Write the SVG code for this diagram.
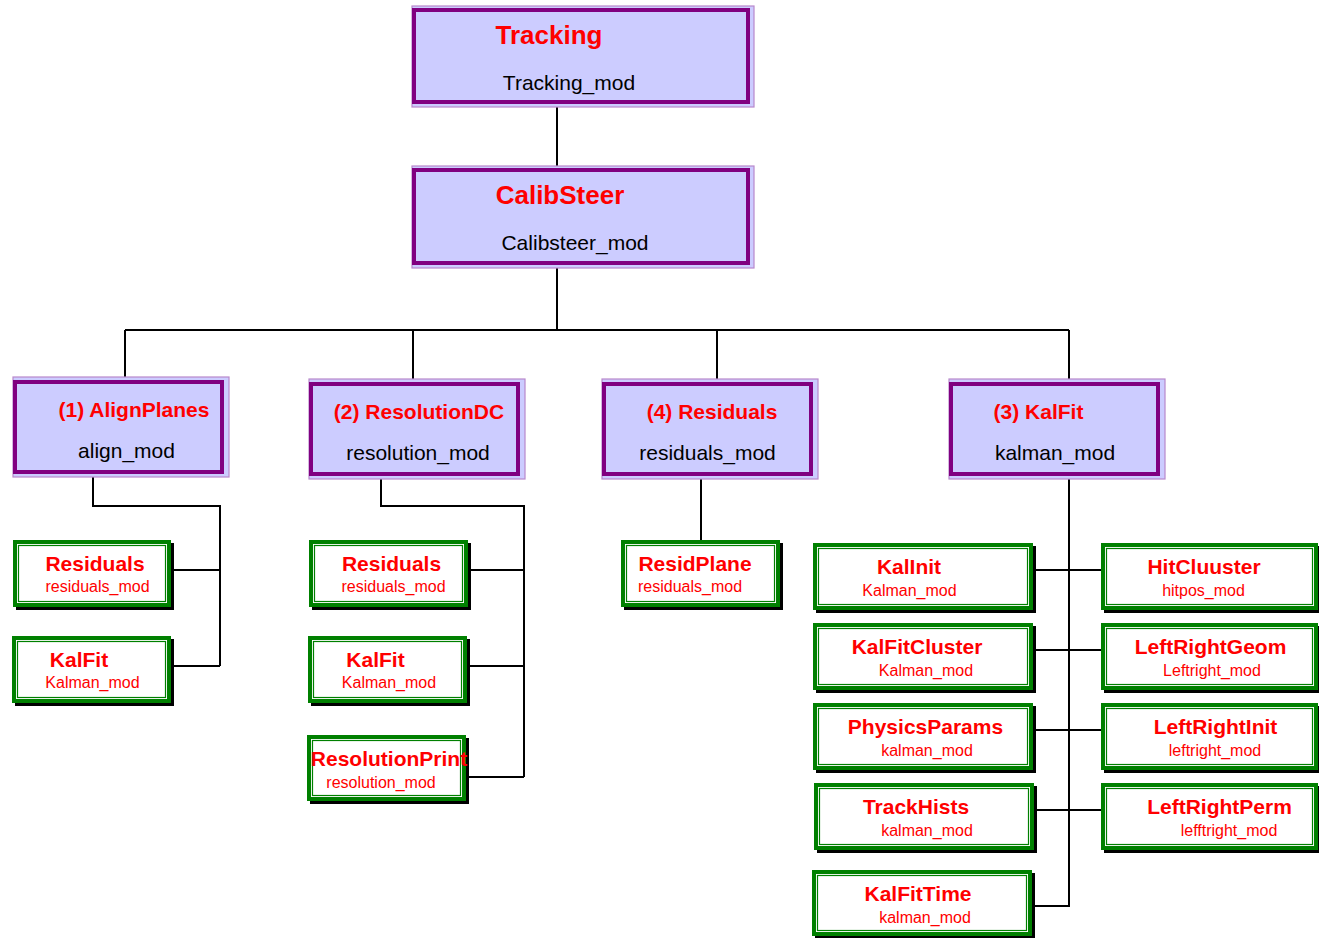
<svg xmlns="http://www.w3.org/2000/svg" width="1319" height="938" viewBox="0 0 1319 938">
<style>
.bg{fill:#ffffff}
.plight{fill:#CCCCFF;stroke:#B888CC;stroke-width:1.2}
.pmain{fill:#CCCCFF;stroke:#800080;stroke-width:4}
.gshadow{fill:#000000}
.gmain{fill:#ffffff;stroke:#008000;stroke-width:4}
.ginner{fill:none;stroke:#008000;stroke-width:1.2}
.t1{font-family:"Liberation Sans",Arial,sans-serif;font-weight:bold;font-size:26px;fill:#FF0000;text-anchor:middle}
.t2{font-family:"Liberation Sans",Arial,sans-serif;font-weight:bold;font-size:21px;fill:#FF0000;text-anchor:middle}
.s1{font-family:"Liberation Sans",Arial,sans-serif;font-size:21px;fill:#000000;text-anchor:middle}
.g1{font-family:"Liberation Sans",Arial,sans-serif;font-weight:bold;font-size:21px;fill:#FF0000;text-anchor:middle}
.g2{font-family:"Liberation Sans",Arial,sans-serif;font-size:16px;fill:#FF0000;text-anchor:middle}
.c{fill:none;stroke:#000000;stroke-width:2}
</style>
<rect class="bg" x="0" y="0" width="1319" height="938"/>
<g id="connectors">
<path class="c" d="M557,104V168"/>
<path class="c" d="M557,265V330"/>
<path class="c" d="M125,330H1069"/>
<path class="c" d="M125,330V380M413,330V382M717,330V382M1069,330V382"/>
<path class="c" d="M93,474V506H220V666"/>
<path class="c" d="M171,570H220M171,666H220"/>
<path class="c" d="M381,476V506H524V777"/>
<path class="c" d="M468,570H524M467,666H524M466,777H524"/>
<path class="c" d="M701,476V540"/>
<path class="c" d="M1069,476V906H1032"/>
<path class="c" d="M1033,570H1101M1033,650H1101M1033,730H1101M1034,810H1101"/>
</g>
<g id="tracking">
<rect class="plight" x="412" y="6" width="342" height="101"/>
<rect class="pmain" x="414" y="10" width="334" height="92"/>
<text class="t1" x="549" y="44">Tracking</text>
<text class="s1" x="569" y="90">Tracking_mod</text>
</g>
<g id="calibsteer">
<rect class="plight" x="412" y="166" width="342" height="102"/>
<rect class="pmain" x="414" y="170" width="334" height="93"/>
<text class="t1" x="560" y="204">CalibSteer</text>
<text class="s1" x="575" y="250">Calibsteer_mod</text>
</g>
<g id="alignplanes">
<rect class="plight" x="13" y="377" width="216" height="100"/>
<rect class="pmain" x="15" y="382" width="207" height="90"/>
<text class="t2" x="134" y="417">(1) AlignPlanes</text>
<text class="s1" x="126.5" y="458">align_mod</text>
</g>
<g id="resolutiondc">
<rect class="plight" x="309" y="379" width="216" height="100"/>
<rect class="pmain" x="311" y="384" width="207" height="90"/>
<text class="t2" x="419" y="419">(2) ResolutionDC</text>
<text class="s1" x="418" y="460">resolution_mod</text>
</g>
<g id="residuals4">
<rect class="plight" x="602" y="379" width="216" height="100"/>
<rect class="pmain" x="604" y="384" width="207" height="90"/>
<text class="t2" x="712" y="419">(4) Residuals</text>
<text class="s1" x="707.5" y="460">residuals_mod</text>
</g>
<g id="kalfit3">
<rect class="plight" x="949" y="379" width="216" height="100"/>
<rect class="pmain" x="951" y="384" width="207" height="90"/>
<text class="t2" x="1038.5" y="419">(3) KalFit</text>
<text class="s1" x="1055" y="460">kalman_mod</text>
</g>
<g id="residuals-a">
<rect class="gshadow" x="16" y="543" width="158" height="67"/>
<rect class="gmain" x="15" y="542" width="154" height="63"/>
<rect class="ginner" x="18.5" y="545.5" width="147" height="56"/>
<text class="g1" x="95" y="571">Residuals</text>
<text class="g2" x="97.5" y="592">residuals_mod</text>
</g>
<g id="kalfit-a">
<rect class="gshadow" x="15" y="639" width="159" height="67"/>
<rect class="gmain" x="14" y="638" width="155" height="63"/>
<rect class="ginner" x="17.5" y="641.5" width="148" height="56"/>
<text class="g1" x="79" y="667">KalFit</text>
<text class="g2" x="92.5" y="688">Kalman_mod</text>
</g>
<g id="residuals-b">
<rect class="gshadow" x="312" y="543" width="159" height="67"/>
<rect class="gmain" x="311" y="542" width="155" height="63"/>
<rect class="ginner" x="314.5" y="545.5" width="148" height="56"/>
<text class="g1" x="391.5" y="571">Residuals</text>
<text class="g2" x="393.5" y="592">residuals_mod</text>
</g>
<g id="kalfit-b">
<rect class="gshadow" x="311" y="639" width="159" height="67"/>
<rect class="gmain" x="310" y="638" width="155" height="63"/>
<rect class="ginner" x="313.5" y="641.5" width="148" height="56"/>
<text class="g1" x="375.5" y="667">KalFit</text>
<text class="g2" x="389" y="688">Kalman_mod</text>
</g>
<g id="resolutionprint">
<rect class="gshadow" x="310" y="738" width="159" height="66"/>
<rect class="gmain" x="309" y="737" width="155" height="62"/>
<rect class="ginner" x="312.5" y="740.5" width="148" height="55"/>
<text class="g1" x="389" y="766">ResolutionPrint</text>
<text class="g2" x="381" y="788">resolution_mod</text>
</g>
<g id="residplane">
<rect class="gshadow" x="624" y="543" width="159" height="67"/>
<rect class="gmain" x="623" y="542" width="155" height="63"/>
<rect class="ginner" x="626.5" y="545.5" width="148" height="56"/>
<text class="g1" x="695" y="571">ResidPlane</text>
<text class="g2" x="690" y="592">residuals_mod</text>
</g>
<g id="kalinit">
<rect class="gshadow" x="816" y="546" width="220" height="67"/>
<rect class="gmain" x="815" y="545" width="216" height="63"/>
<rect class="ginner" x="818.5" y="548.5" width="209" height="56"/>
<text class="g1" x="909" y="574">KalInit</text>
<text class="g2" x="909.5" y="596">Kalman_mod</text>
</g>
<g id="kalfitcluster">
<rect class="gshadow" x="816" y="626" width="220" height="67"/>
<rect class="gmain" x="815" y="625" width="216" height="63"/>
<rect class="ginner" x="818.5" y="628.5" width="209" height="56"/>
<text class="g1" x="917" y="654">KalFitCluster</text>
<text class="g2" x="926" y="676">Kalman_mod</text>
</g>
<g id="physicsparams">
<rect class="gshadow" x="816" y="706" width="220" height="67"/>
<rect class="gmain" x="815" y="705" width="216" height="63"/>
<rect class="ginner" x="818.5" y="708.5" width="209" height="56"/>
<text class="g1" x="925.5" y="734">PhysicsParams</text>
<text class="g2" x="927" y="756">kalman_mod</text>
</g>
<g id="trackhists">
<rect class="gshadow" x="817" y="786" width="220" height="67"/>
<rect class="gmain" x="816" y="785" width="216" height="63"/>
<rect class="ginner" x="819.5" y="788.5" width="209" height="56"/>
<text class="g1" x="916" y="814">TrackHists</text>
<text class="g2" x="927" y="836">kalman_mod</text>
</g>
<g id="kalfittime">
<rect class="gshadow" x="815" y="873" width="220" height="66"/>
<rect class="gmain" x="814" y="872" width="216" height="62"/>
<rect class="ginner" x="817.5" y="875.5" width="209" height="55"/>
<text class="g1" x="918" y="901">KalFitTime</text>
<text class="g2" x="925" y="923">kalman_mod</text>
</g>
<g id="hitcluuster">
<rect class="gshadow" x="1104" y="546" width="217" height="67"/>
<rect class="gmain" x="1103" y="545" width="213" height="63"/>
<rect class="ginner" x="1106.5" y="548.5" width="206" height="56"/>
<text class="g1" x="1204" y="574">HitCluuster</text>
<text class="g2" x="1203.5" y="596">hitpos_mod</text>
</g>
<g id="leftrightgeom">
<rect class="gshadow" x="1104" y="626" width="217" height="67"/>
<rect class="gmain" x="1103" y="625" width="213" height="63"/>
<rect class="ginner" x="1106.5" y="628.5" width="206" height="56"/>
<text class="g1" x="1210.5" y="654">LeftRightGeom</text>
<text class="g2" x="1212" y="676">Leftright_mod</text>
</g>
<g id="leftrightinit">
<rect class="gshadow" x="1104" y="706" width="217" height="67"/>
<rect class="gmain" x="1103" y="705" width="213" height="63"/>
<rect class="ginner" x="1106.5" y="708.5" width="206" height="56"/>
<text class="g1" x="1215.5" y="734">LeftRightInit</text>
<text class="g2" x="1215" y="756">leftright_mod</text>
</g>
<g id="leftrightperm">
<rect class="gshadow" x="1104" y="786" width="217" height="67"/>
<rect class="gmain" x="1103" y="785" width="213" height="63"/>
<rect class="ginner" x="1106.5" y="788.5" width="206" height="56"/>
<text class="g1" x="1219.5" y="814">LeftRightPerm</text>
<text class="g2" x="1229" y="836">lefftright_mod</text>
</g>
</svg>
